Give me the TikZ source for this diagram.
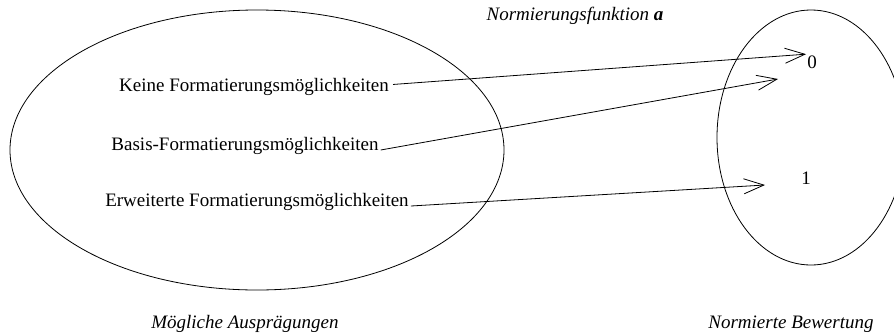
\documentclass[tikz,border=0pt]{standalone}
\usepackage{fontspec}
\setmainfont{Liberation Serif}
\usetikzlibrary{arrows.meta}
\begin{document}
\begin{tikzpicture}[x=1pt,y=-1pt,
    item/.style={font=\fontsize{19}{22}\selectfont, inner sep=2pt, anchor=base},
    caption/.style={font=\fontsize{19}{22}\selectfont\itshape, inner sep=0pt, anchor=base},
    value/.style={font=\fontsize{19}{22}\selectfont, inner sep=1pt, anchor=base},
    map/.style={-{Straight Barb[length=20pt,width=15pt,line width=0.8pt]}, line width=0.8pt}]
  \clip (0,0) rectangle (894,333);
  % the two sets
  \draw[line width=0.8pt] (257,150) ellipse [x radius=247, y radius=140];
  \draw[line width=0.8pt] (811,137.5) ellipse [x radius=94, y radius=127.5];
  % texts
  \node[caption] (title) at (575,20) {Normierungsfunktion \textbf{a}};
  \node[item] (keine) at (254,91) {Keine Formatierungsmöglichkeiten};
  \node[item] (basis) at (245,150) {Basis-Formatierungsmöglichkeiten};
  \node[item] (erw) at (257,206) {Erweiterte Formatierungsmöglichkeiten};
  \node[value] (zero) at (812,68) {0};
  \node[value] (one) at (806,184) {1};
  \node[caption] (ausp) at (245,328) {Mögliche Ausprägungen};
  \node[caption] (bew) at (791,328) {Normierte Bewertung};
  \coordinate (tip2) at (778,79);
  \coordinate (tip3) at (765,185);
  % the mapping
  \draw[map] ([xshift=2pt,yshift=2pt]keine.east) -- (zero.north west);
  \draw[map] (basis.base east) -- (tip2);
  \draw[map] (erw.base east) -- (tip3);
\end{tikzpicture}
\end{document}
